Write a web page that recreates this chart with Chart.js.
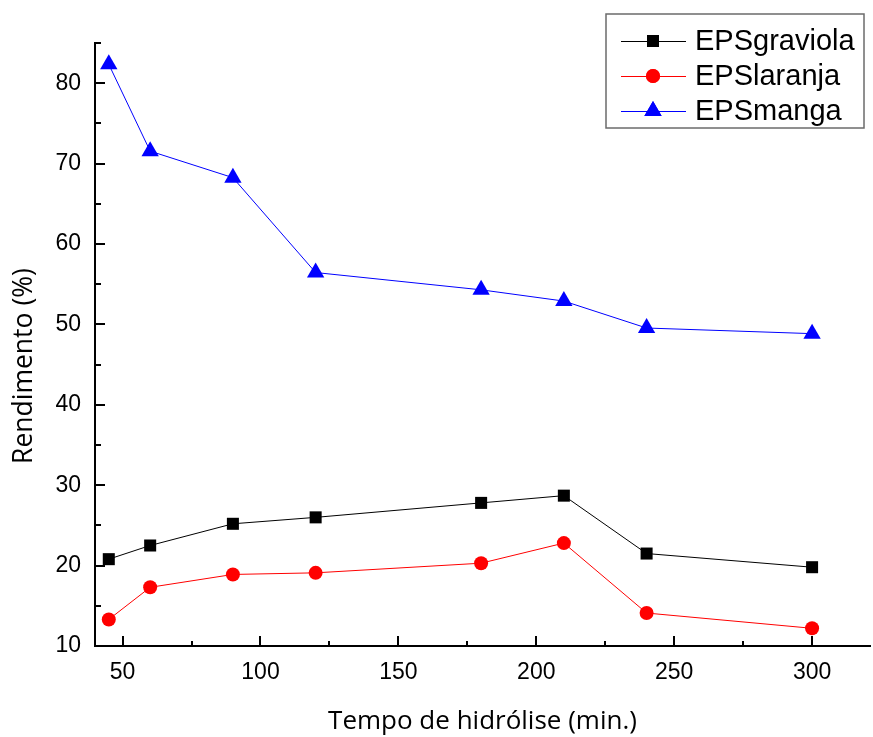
<!DOCTYPE html>
<html>
<head>
<meta charset="utf-8">
<script src="https://cdn.jsdelivr.net/npm/chart.js@4/dist/chart.umd.min.js"></script>
<style>
  html, body { margin: 0; padding: 0; background: #fff; }
  #wrap { width: 873px; height: 737px; }
</style>
</head>
<body>
<div id="wrap"><canvas id="c" width="873" height="737"></canvas></div>
<script>
// ---- data ----
const times = [45, 60, 90, 120, 180, 210, 240, 300];
const graviola = [20.8, 22.5, 25.2, 26.0, 27.8, 28.7, 21.5, 19.8];
const laranja = [13.3, 17.3, 18.9, 19.1, 20.3, 22.8, 14.1, 12.2];
const manga = [82.35, 71.55, 68.25, 56.45, 54.3, 52.9, 49.55, 48.85];
const seriesNames = ['EPSgraviola', 'EPSlaranja', 'EPSmanga'];
const xTicks = [50, 100, 150, 200, 250, 300];
const xMinorTicks = [75, 125, 175, 225, 275];
const yTicks = [10, 20, 30, 40, 50, 60, 70, 80];
const yMinorTicks = [15, 25, 35, 45, 55, 65, 75, 85];
const xTitle = 'Tempo de hidrólise (min.)';
const yTitle = 'Rendimento (%)';

const toPts = (arr) => arr.map((v, i) => ({ x: times[i], y: v }));

const styles = [
  { color: '#000000', pointStyle: 'rect', radius: 8.5 },
  { color: '#ff0000', pointStyle: 'circle', radius: 7 },
  { color: '#0000ff', pointStyle: 'triangle', radius: 10 }
];
const values = [graviola, laranja, manga];

const datasets = values.map((arr, i) => ({
  label: seriesNames[i],
  data: toPts(arr),
  borderColor: styles[i].color,
  backgroundColor: styles[i].color,
  pointBackgroundColor: styles[i].color,
  pointBorderColor: styles[i].color,
  pointBorderWidth: 0,
  borderWidth: 1,
  pointStyle: styles[i].pointStyle,
  pointRadius: styles[i].radius,
  pointHoverRadius: styles[i].radius,
  tension: 0,
  clip: false
}));

const fixRight = {
  id: 'fixRight',
  afterLayout(chart) {
    const xs = chart.scales.x;
    const R = 870;
    if (Math.abs(xs.right - R) > 0.5) {
      xs.right = R;
      xs.width = R - xs.left;
      chart.chartArea.right = R;
      chart.chartArea.width = R - chart.chartArea.left;
      xs.configure();
    }
  }
};

const inwardTicks = {
  id: 'inwardTicks',
  afterDraw(chart) {
    const ctx = chart.ctx;
    const xs = chart.scales.x, ys = chart.scales.y;
    const a = chart.chartArea;
    ctx.save();
    ctx.strokeStyle = '#000';
    ctx.lineWidth = 2;
    ctx.beginPath();
    xTicks.forEach(v => { const p = Math.round(xs.getPixelForValue(v)); ctx.moveTo(p, a.bottom); ctx.lineTo(p, a.bottom - 10); });
    xMinorTicks.forEach(v => { const p = Math.round(xs.getPixelForValue(v)); ctx.moveTo(p, a.bottom); ctx.lineTo(p, a.bottom - 5); });
    yTicks.forEach(v => { const p = Math.round(ys.getPixelForValue(v)); ctx.moveTo(a.left, p); ctx.lineTo(a.left + 10, p); });
    yMinorTicks.forEach(v => { const p = Math.round(ys.getPixelForValue(v)); ctx.moveTo(a.left, p); ctx.lineTo(a.left + 6, p); });
    ctx.stroke();

    // y axis title
    ctx.fillStyle = '#000';
    ctx.font = '26.5px "Open Sans"';
    ctx.textAlign = 'center';
    ctx.textBaseline = 'middle';
    ctx.translate(24, 366);
    ctx.rotate(-Math.PI / 2);
    ctx.fillText(yTitle, 0, 0);
    ctx.restore();

    // legend
    ctx.save();
    const bx = 606, by = 14, bw = 258, bh = 114;
    ctx.fillStyle = '#fff';
    ctx.fillRect(bx, by, bw, bh);
    ctx.strokeStyle = '#6b6b6b';
    ctx.lineWidth = 1.5;
    ctx.strokeRect(bx, by, bw, bh);
    const rows = [41, 76, 111];
    chart.data.datasets.forEach((ds, i) => {
      const y = rows[i];
      ctx.strokeStyle = ds.borderColor;
      ctx.lineWidth = 1;
      ctx.beginPath();
      ctx.moveTo(621, y + 0.5); ctx.lineTo(686, y + 0.5);
      ctx.stroke();
      ctx.fillStyle = ds.pointBackgroundColor;
      Chart.helpers.drawPoint(ctx, { pointStyle: ds.pointStyle, radius: ds.pointRadius, borderWidth: 0, rotation: 0 }, 653, y);
      ctx.fill();
      ctx.fillStyle = '#000';
      ctx.font = '29px "Liberation Sans", Arial, sans-serif';
      ctx.textAlign = 'left';
      ctx.textBaseline = 'middle';
      ctx.fillText(ds.label, 695, y + 1);
    });
    ctx.restore();
  }
};

new Chart(document.getElementById('c'), {
  type: 'line',
  data: { datasets },
  options: {
    responsive: false,
    animation: false,
    devicePixelRatio: 1,
    layout: { padding: { top: 43, right: 3, left: 0, bottom: 0 } },
    plugins: { legend: { display: false }, tooltip: { enabled: false } },
    scales: {
      x: {
        type: 'linear',
        min: 40, max: 321,
        afterBuildTicks: (s) => { s.ticks = xTicks.map(v => ({ value: v })); },
        afterFit: (s) => { s.height = 91; },
        grid: { display: true, drawOnChartArea: false, drawTicks: false },
        border: { display: true, color: '#000', width: 2 },
        ticks: { color: '#000', padding: 13, maxRotation: 0, font: { family: '"Liberation Sans", Arial', size: 23 } },
        title: { display: true, text: xTitle, color: '#000', padding: { top: 11, bottom: 0 }, font: { family: '"Open Sans"', size: 26 } }
      },
      y: {
        type: 'linear',
        min: 10, max: 85,
        afterBuildTicks: (s) => { s.ticks = yTicks.map(v => ({ value: v })); },
        afterFit: (s) => { s.width = 95; },
        grid: { display: true, drawOnChartArea: false, drawTicks: false },
        border: { display: true, color: '#000', width: 2 },
        ticks: { color: '#000', padding: 14, font: { family: '"Liberation Sans", Arial', size: 23 } }
      }
    }
  },
  plugins: [fixRight, inwardTicks]
});
</script>
</body>
</html>
